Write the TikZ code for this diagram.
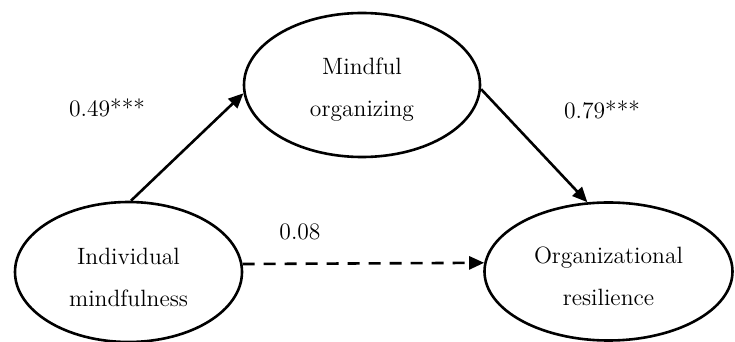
\documentclass[tikz,border=0pt]{standalone}
\usetikzlibrary{shapes.geometric,arrows.meta}
\begin{document}
\begin{tikzpicture}[x=0.5pt,y=-0.5pt,
  construct/.style={ellipse,draw,line width=1.3pt,inner sep=0pt},
  inside/.style={label={[align=center,yshift=-2.5pt,
    font=\fontsize{11.8}{21}\selectfont]center:#1}},
  path/.style={line width=1.3pt,-{Triangle[length=7.5pt,width=6.5pt]}},
  coef/.style={font=\fontsize{11.8}{13}\selectfont}]
\useasboundingbox (0,0) rectangle (735,342);
\node[construct,minimum width=113.5pt,minimum height=70pt,inside={Individual\\mindfulness}] (im) at (128.5,272) {};
\node[construct,minimum width=118pt,minimum height=72pt,inside={Mindful\\organizing}] (mo) at (362,85) {};
\node[construct,minimum width=124pt,minimum height=69pt,inside={Organizational\\resilience}] (or) at (608.5,271.5) {};
\draw[path] (im.88) -- (mo.184);
\draw[path] (mo.358) -- (or.107);
\draw[path,dashed,dash pattern=on 6pt off 4.5pt] (im.4) -- (or.176.5);
\node[coef] (a) at (107,108) {0.49***};
\node[coef] (b) at (602,110) {0.79***};
\node[coef] (c) at (300,232) {0.08};
\end{tikzpicture}
\end{document}
